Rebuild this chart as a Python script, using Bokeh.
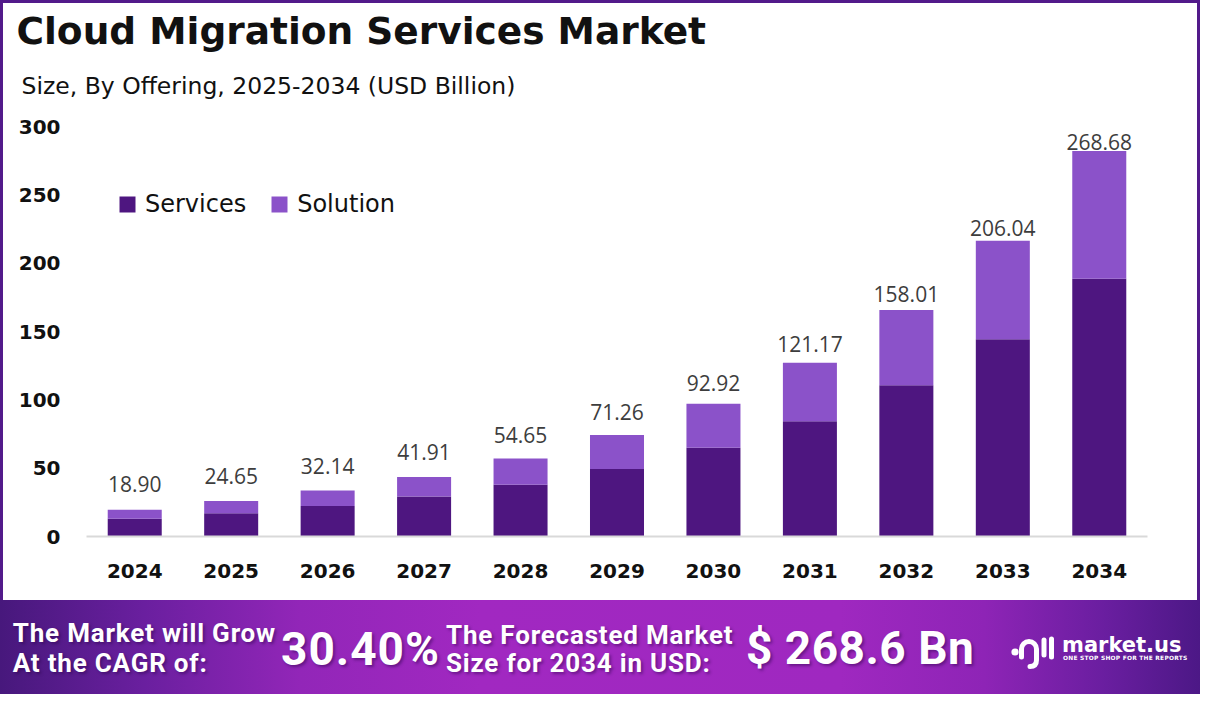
from bokeh.plotting import figure
from bokeh.models import FactorRange, Range1d, FixedTicker, Legend, LegendItem, Title, Div
from bokeh.layouts import column
from bokeh.embed import file_html
from bokeh.resources import INLINE
from bokeh.core.properties import value

# ---------------- data ----------------
years = ["2024", "2025", "2026", "2027", "2028", "2029", "2030", "2031", "2032", "2033", "2034"]
services = [12.9, 17.1, 22.4, 29.3, 37.9, 49.3, 65.0, 84.3, 110.7, 144.3, 188.6]
solution = [6.6, 8.8, 11.2, 14.3, 19.2, 25.0, 32.1, 42.8, 55.0, 72.1, 93.5]
total_labels = [18.90, 24.65, 32.14, 41.91, 54.65, 71.26, 92.92, 121.17, 158.01, 206.04, 268.68]
y_ticks = [0, 50, 100, 150, 200, 250, 300]
series_names = ["Services", "Solution"]

title_text = "Cloud Migration Services Market"
subtitle_text = "Size, By Offering, 2025-2034 (USD Billion)"
grow_line1 = "The Market will Grow"
grow_line2 = "At the CAGR of:"
cagr_text = "30.40%"
fc_line1 = "The Forecasted Market"
fc_line2 = "Size for 2034 in USD:"
forecast_text = "$ 268.6 Bn"

# ---------------- styles ----------------
C_SERV = "#4e1680"
C_SOL = "#8b52c9"
BORDER = "#521a8a"

p = figure(width=1200, height=600, x_range=FactorRange(factors=years), y_range=Range1d(0, 300),
           output_backend="svg", toolbar_location=None,
           min_border_left=83, min_border_right=56, min_border_top=122, min_border_bottom=67,
           styles={"border-top": f"3px solid {BORDER}", "border-left": f"3px solid {BORDER}",
                   "border-right": f"3px solid {BORDER}"})
p.title = None
p.outline_line_color = None
p.xgrid.grid_line_color = None
p.ygrid.grid_line_color = None
p.background_fill_color = "white"
p.border_fill_color = "white"

source = dict(years=years, Services=services, Solution=solution)
rs = p.vbar_stack(series_names, x="years", width=0.56, color=[C_SERV, C_SOL], line_color=None, source=source)

p.text(x=years, y=total_labels, text=[f"{v:.2f}" for v in total_labels],
       text_align="center", text_baseline="alphabetic", y_offset=-27,
       text_font=value("Open Sans"), text_font_size="21px", text_color="#3d3d3d")

# axes
p.xaxis.axis_line_color = "#d9d9d9"
p.xaxis.axis_line_width = 2
p.xaxis.major_tick_line_color = None
p.xaxis.minor_tick_line_color = None
p.xaxis.major_label_text_font = "DejaVu Sans"
p.xaxis.major_label_text_font_style = "bold"
p.xaxis.major_label_text_font_size = "20px"
p.xaxis.major_label_text_color = "#111111"
p.xaxis.major_label_standoff = 21

p.yaxis.ticker = FixedTicker(ticks=y_ticks)
p.yaxis.axis_line_color = None
p.yaxis.major_tick_line_color = None
p.yaxis.minor_tick_line_color = None
p.yaxis.major_label_text_font = "DejaVu Sans"
p.yaxis.major_label_text_font_style = "bold"
p.yaxis.major_label_text_font_size = "20px"
p.yaxis.major_label_text_color = "#111111"
p.yaxis.major_label_standoff = 20

legend = Legend(items=[LegendItem(label=series_names[0], renderers=[rs[0]]),
                       LegendItem(label=series_names[1], renderers=[rs[1]])],
                location=(31, 318), orientation="horizontal",
                glyph_width=20, glyph_height=20, label_standoff=8, spacing=23,
                padding=0, margin=0, background_fill_alpha=0, border_line_alpha=0,
                label_text_font="DejaVu Sans", label_text_font_size="24px",
                label_text_color="#111111", label_height=20)
p.add_layout(legend)

# header: spacer panel (nearest the frame), subtitle, title
p.add_layout(Title(text=" ", text_font_size="1px", standoff=8.7), "above")
p.add_layout(Title(text=subtitle_text, align="left", offset=-65, standoff=24.6, vertical_align="top",
                   text_font="DejaVu Sans", text_font_style="normal", text_font_size="23.5px",
                   text_color="#111111"), "above")
p.add_layout(Title(text=title_text, align="left", offset=-70, standoff=10, vertical_align="top",
                   text_font="DejaVu Sans", text_font_style="bold", text_font_size="37.5px",
                   text_color="#111111"), "above")

# ---------------- banner (decorative strip) ----------------
grad = ("linear-gradient(90deg, #47187c 0%, #6a1f9f 12%, #9226b8 25%, #a128c1 40%, "
        "#9f28c0 70%, #8e24b6 82%, #6a1ea0 92%, #4c1886 100%)")
sh = "text-shadow:2px 2px 3px rgba(40,0,70,0.45);"

def span(x, top, size, txt, ls=0, font="Roboto", extra=""):
    return (f'<span style="position:absolute;left:{x}px;top:{top}px;font-family:{font};font-weight:bold;'
            f'font-size:{size}px;line-height:1;letter-spacing:{ls}px;white-space:nowrap;color:#fff;{sh}{extra}">{txt}</span>')

logo_svg = ('<svg style="position:absolute;left:1011px;top:36px" width="44" height="33" viewBox="0 0 44 33">'
            '<circle cx="4" cy="16" r="3.6" fill="#fff"/>'
            '<path d="M 10.5 21 L 10.5 13 A 7.5 7.5 0 0 1 25.5 13 L 25.5 24 Q 25.5 30.5 19 30.5" '
            'stroke="#fff" stroke-width="5" fill="none" stroke-linecap="round"/>'
            '<line x1="33" y1="4" x2="33" y2="19" stroke="#fff" stroke-width="5" stroke-linecap="round"/>'
            '<line x1="40.5" y1="3" x2="40.5" y2="21" stroke="#fff" stroke-width="5" stroke-linecap="round"/>'
            '</svg>')

html = (f'<div style="position:relative;width:1200px;height:94px;background:{grad};overflow:hidden;">'
        + span(12.8, 20.2, 26, grow_line1, 0.8)
        + span(12.8, 49.6, 26, grow_line2, 0.8)
        + span(281, 25.9, 46, cagr_text, 1)
        + span(446, 21.5, 26, fc_line1, 0.8)
        + span(446, 49.6, 26, fc_line2, 0.8)
        + span(746, 24.9, 46, forecast_text, 0.5)
        + logo_svg
        + span(1062, 34.7, 21, "market.us", 0, font="DejaVu Sans", extra="text-shadow:none;")
        + span(1063, 55.5, 5.9, "ONE STOP SHOP FOR THE REPORTS", 0.25, font="DejaVu Sans", extra="text-shadow:none;")
        + '</div>')

banner = Div(text=html, width=1200, height=94, margin=0)

layout = column(p, banner, spacing=0)
open("out.html", "w").write(file_html(layout, INLINE))
